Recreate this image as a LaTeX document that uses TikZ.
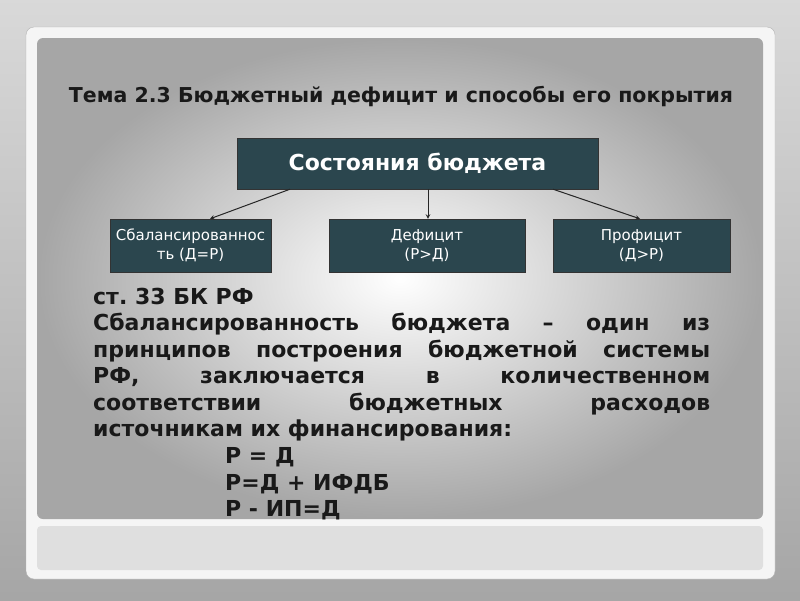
\documentclass[tikz,border=0pt]{standalone}
\usepackage{fontspec}
\setmainfont{DejaVu Sans}
\frenchspacing
\definecolor{boxc}{HTML}{2B464E}
\tikzset{
  sbox/.style={draw=black!80, fill=boxc, text=white, align=center, inner sep=0pt},
  arr/.style={->, >=stealth, draw=black!85, line width=1pt},
  bline/.style={anchor=base west, inner sep=0pt, font=\fontsize{22}{24}\selectfont\bfseries, text=black!90}
}
\begin{document}
\begin{tikzpicture}[x=1pt,y=-1pt]
\useasboundingbox (0,0) rectangle (800,600);
\shade[top color=gray!30, bottom color=gray!70] (0,0) rectangle (800,600);
\draw[gray!60, fill=gray!8, rounded corners=8] (26,27) rectangle (775,579);
\shade[inner color=white, outer color=gray!70, rounded corners=6] (37,38) rectangle (763,519);
\fill[gray!25, rounded corners=4] (37,526) rectangle (763,570);
\node[font=\fontsize{20.5}{22}\selectfont\bfseries, text=black!90] (title) at (401,97) {Тема 2.3 Бюджетный дефицит и способы его покрытия};
\node[sbox, minimum width=361, minimum height=51, font=\fontsize{22}{24}\selectfont\bfseries] (top) at (417.5,163.5) {Состояния бюджета};
\node[sbox, minimum width=161, minimum height=53, font=\fontsize{15}{19}\selectfont] (b1) at (190.5,245.5) {Сбалансированнос\\ть (Д=Р)};
\node[sbox, minimum width=196, minimum height=53, font=\fontsize{15}{19}\selectfont] (b2) at (427,245.5) {Дефицит\\(Р>Д)};
\node[sbox, minimum width=177, minimum height=53, font=\fontsize{15}{19}\selectfont] (b3) at (641.5,245.5) {Профицит\\(Д>Р)};
\draw[arr] (top.south -| 290,0) -- (b1.north -| 210,0);
\draw[arr] (top.south -| 428,0) -- (b2.north -| 428,0);
\draw[arr] (top.south -| 553,0) -- (b3.north -| 640,0);
\node[bline] (l1) at (93,304) {ст. 33 БК РФ};
\node[bline] (l2) at (93,330) {\hbox to 617pt{Сбалансированность\hfill бюджета\hfill –\hfill один\hfill из}};
\node[bline] (l3) at (93,357) {\hbox to 617pt{принципов\hfill построения\hfill бюджетной\hfill системы}};
\node[bline] (l4) at (93,383) {\hbox to 617pt{РФ,\hfill заключается\hfill в\hfill количественном}};
\node[bline] (l5) at (93,410) {\hbox to 617pt{соответствии\hfill бюджетных\hfill расходов}};
\node[bline] (l6) at (93,436) {источникам их финансирования:};
\node[bline] (l7) at (225,463) {Р = Д};
\node[bline] (l8) at (225,490) {Р=Д + ИФДБ};
\node[bline] (l9) at (225,516) {Р - ИП=Д};
\end{tikzpicture}
\end{document}
